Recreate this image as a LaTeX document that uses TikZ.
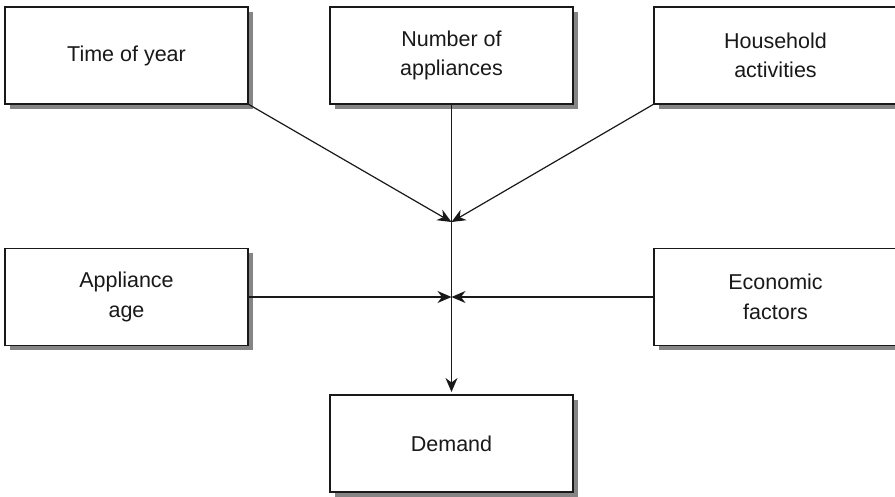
\documentclass[tikz,border=0pt]{standalone}
\usepackage{fontspec}
\setmainfont{Liberation Sans}
\usetikzlibrary{arrows.meta}
\begin{document}
\begin{tikzpicture}[x=1pt,y=1pt,
  factorbox/.style={draw=black!90, line width=1.5pt, fill=white,
    minimum width=243pt, minimum height=97pt, inner sep=0pt, outer sep=0pt,
    align=center, font=\fontsize{21.5}{29.5}\selectfont, text=black!90,
    preaction={fill=black!48, transform canvas={shift={(4.5pt,-4.5pt)}}}},
  link/.style={draw=black!90, line width=1.2pt},
  tip/.style={-{Stealth[length=14pt,width=12pt,inset=4.5pt]}}]
\useasboundingbox (0,0) rectangle (895,-496);

% factor boxes
\node[factorbox] (time)   at (126.5,-55.5)  {Time of year};
\node[factorbox] (number) at (451.5,-55.5)  {Number of\\appliances};
\node[factorbox] (house)  at (775.5,-55.5)  {Household\\activities};
\node[factorbox] (age)    at (126.5,-297)   {Appliance\\age};
\node[factorbox] (econ)   at (775.5,-297)   {Economic\\factors};
\node[factorbox] (demand) at (451.5,-443.5) {Demand};

% meeting points on the central line
\coordinate (upper) at (451.5,-222);
\coordinate (lower) at (451.5,-297);

% connectors
\draw[link,tip,shorten >=3pt] (number.south) -- (demand.north);
\draw[link,tip] (time.south east) -- (upper);
\draw[link,tip] (house.south west) -- (upper);
\draw[link,tip] (age.east) -- (lower);
\draw[link,tip] (econ.west) -- (lower);
\end{tikzpicture}
\end{document}
